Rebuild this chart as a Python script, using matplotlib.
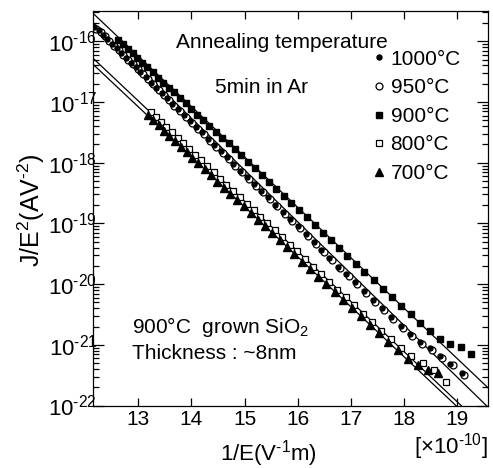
import numpy as np
import matplotlib
matplotlib.use("Agg")
import matplotlib.pyplot as plt
from matplotlib.ticker import FuncFormatter

plt.rcParams['font.family'] = ['Liberation Sans', 'DejaVu Sans']
plt.rcParams['mathtext.fontset'] = 'custom'
plt.rcParams['mathtext.rm'] = 'Liberation Sans'
plt.rcParams['mathtext.it'] = 'Liberation Sans:italic'
plt.rcParams['mathtext.bf'] = 'Liberation Sans:bold'

# ---------------- data (1/E in 1e-10 V^-1 m, log10 of J/E^2 in A V^-2) ----------------
x_1000 = [12.17, 12.25, 12.33, 12.41, 12.50, 12.59, 12.68, 12.77, 12.86, 12.95, 13.04, 13.14,
          13.24, 13.34, 13.44, 13.54, 13.64, 13.75, 13.86, 13.97, 14.08, 14.19, 14.31, 14.43,
          14.55, 14.67, 14.79, 14.92, 15.05, 15.18, 15.31, 15.44, 15.58, 15.72, 15.86, 16.00,
          16.15, 16.30, 16.45, 16.60, 16.76, 16.92, 17.08, 17.25, 17.42, 17.59, 17.76, 17.94,
          18.12, 18.30, 18.49, 18.68, 18.88, 19.09]
logy_1000 = [-15.76, -15.82, -15.89, -15.96, -16.04, -16.11, -16.19, -16.27, -16.35, -16.43,
             -16.51, -16.59, -16.68, -16.77, -16.85, -16.94, -17.03, -17.12, -17.22, -17.31,
             -17.41, -17.50, -17.61, -17.71, -17.81, -17.91, -18.02, -18.13, -18.24, -18.35,
             -18.46, -18.57, -18.69, -18.81, -18.93, -19.05, -19.18, -19.31, -19.44, -19.57,
             -19.71, -19.84, -19.97, -20.12, -20.26, -20.40, -20.54, -20.69, -20.82, -20.95,
             -21.06, -21.18, -21.31, -21.46]

x_950 = [12.21, 12.29, 12.37, 12.45, 12.54, 12.63, 12.72, 12.81, 12.90, 12.99, 13.08, 13.18,
         13.28, 13.38, 13.48, 13.58, 13.68, 13.79, 13.90, 14.01, 14.12, 14.23, 14.35, 14.47,
         14.59, 14.71, 14.83, 14.96, 15.09, 15.22, 15.35, 15.48, 15.62, 15.76, 15.90, 16.04,
         16.19, 16.34, 16.49, 16.64, 16.80, 16.96, 17.12, 17.29, 17.46, 17.63, 17.80, 17.98,
         18.16, 18.34, 18.53, 18.72, 18.92, 19.13]
logy_950 = [-15.79, -15.85, -15.92, -15.99, -16.07, -16.14, -16.22, -16.30, -16.38, -16.46,
            -16.54, -16.62, -16.71, -16.80, -16.88, -16.97, -17.06, -17.15, -17.25, -17.34,
            -17.44, -17.53, -17.64, -17.74, -17.84, -17.94, -18.05, -18.16, -18.27, -18.38,
            -18.49, -18.60, -18.72, -18.84, -18.96, -19.08, -19.21, -19.34, -19.47, -19.60,
            -19.74, -19.87, -20.00, -20.15, -20.29, -20.43, -20.57, -20.72, -20.85, -20.98,
            -21.09, -21.21, -21.34, -21.49]

x_900 = [12.62, 12.71, 12.80, 12.89, 12.98, 13.07, 13.17, 13.27, 13.37, 13.47, 13.57, 13.67,
         13.78, 13.89, 14.00, 14.11, 14.22, 14.34, 14.46, 14.58, 14.70, 14.82, 14.94, 15.07,
         15.20, 15.33, 15.46, 15.60, 15.74, 15.88, 16.02, 16.17, 16.32, 16.47, 16.62, 16.78,
         16.94, 17.10, 17.26, 17.43, 17.60, 17.77, 17.95, 18.13, 18.31, 18.50, 18.69, 18.88,
         19.07, 19.27]
logy_900 = [-15.97, -16.05, -16.12, -16.20, -16.27, -16.35, -16.43, -16.51, -16.60, -16.68,
            -16.77, -16.83, -16.93, -17.02, -17.12, -17.21, -17.29, -17.39, -17.49, -17.59,
            -17.67, -17.77, -17.87, -17.98, -18.09, -18.20, -18.31, -18.43, -18.55, -18.66,
            -18.78, -18.90, -19.03, -19.16, -19.28, -19.41, -19.54, -19.67, -19.80, -19.94,
            -20.08, -20.21, -20.36, -20.50, -20.64, -20.78, -20.90, -20.98, -21.04, -21.15]

x_800 = [13.23, 13.33, 13.43, 13.53, 13.63, 13.74, 13.85, 13.96, 14.07, 14.18, 14.30, 14.42,
         14.54, 14.66, 14.78, 14.91, 15.04, 15.17, 15.30, 15.43, 15.57, 15.71, 15.85, 15.99,
         16.14, 16.29, 16.44, 16.59, 16.75, 16.91, 17.07, 17.24, 17.41, 17.58, 17.76, 17.94,
         18.13, 18.36, 18.57, 18.79]
logy_800 = [-17.16, -17.24, -17.33, -17.41, -17.50, -17.59, -17.68, -17.78, -17.87, -17.96,
            -18.06, -18.16, -18.26, -18.36, -18.46, -18.57, -18.68, -18.78, -18.89, -19.00,
            -19.11, -19.23, -19.35, -19.46, -19.59, -19.71, -19.83, -19.96, -20.09, -20.22,
            -20.35, -20.49, -20.63, -20.77, -20.91, -21.05, -21.18, -21.30, -21.41, -21.61]

x_700 = [13.18, 13.28, 13.38, 13.48, 13.58, 13.69, 13.80, 13.91, 14.02, 14.13, 14.25, 14.37,
         14.49, 14.61, 14.73, 14.86, 14.99, 15.12, 15.25, 15.38, 15.52, 15.66, 15.80, 15.94,
         16.09, 16.24, 16.39, 16.54, 16.70, 16.86, 17.02, 17.19, 17.36, 17.53, 17.71, 17.89,
         18.08, 18.26, 18.45, 18.64]
logy_700 = [-17.21, -17.30, -17.38, -17.47, -17.56, -17.65, -17.74, -17.83, -17.92, -18.01,
            -18.11, -18.21, -18.31, -18.41, -18.51, -18.62, -18.72, -18.83, -18.94, -19.05,
            -19.16, -19.28, -19.39, -19.51, -19.63, -19.75, -19.88, -20.00, -20.13, -20.26,
            -20.39, -20.53, -20.67, -20.81, -20.95, -21.09, -21.24, -21.34, -21.41, -21.47]

# fitted straight lines (end points)
fit_x = [12.137, 19.59]
fit_logy_A = [-15.53, -21.71]
fit_logy_B = [-15.68, -22.03]
fit_logy_C = [-16.27, -22.42]
fit_logy_D = [-16.37, -22.50]

labels = ['1000°C', '950°C', '900°C', '800°C', '700°C']
x_ticks = [13, 14, 15, 16, 17, 18, 19]
y_ticks = [1e-22, 1e-21, 1e-20, 1e-19, 1e-18, 1e-17, 1e-16]

# ---------------- figure ----------------
fig = plt.figure(figsize=(4.93, 4.68), dpi=100)
ax = fig.add_axes([0.1877, 0.1335, 0.8025, 0.843])

for fl in (fit_logy_A, fit_logy_B, fit_logy_C, fit_logy_D):
    ax.plot(fit_x, 10 ** np.array(fl), color='black', lw=0.9, zorder=2)

h900, = ax.plot(x_900, 10 ** np.array(logy_900), ls='none', marker='s', ms=5.0,
                mfc='black', mec='black', zorder=3)
h950, = ax.plot(x_950, 10 ** np.array(logy_950), ls='none', marker='o', ms=5.0,
                mfc='white', mec='black', mew=0.9, zorder=3)
h1000, = ax.plot(x_1000, 10 ** np.array(logy_1000), ls='none', marker='o', ms=3.6,
                 mfc='black', mec='black', zorder=4)
h800, = ax.plot(x_800, 10 ** np.array(logy_800), ls='none', marker='s', ms=5.0,
                mfc='white', mec='black', mew=0.9, zorder=3)
h700, = ax.plot(x_700, 10 ** np.array(logy_700), ls='none', marker='^', ms=5.8,
                mfc='black', mec='black', zorder=4)

ax.set_yscale('log')
ax.set_xlim(12.137, 19.59)
ax.set_ylim(1e-22, 10 ** -15.5)
ax.set_xticks(x_ticks)
ax.set_yticks(y_ticks)


def yfmt(v, pos):
    e = int(round(np.log10(v)))
    return r'$\mathregular{10^{\text{-}%d}}$' % (-e)


ax.yaxis.set_major_formatter(FuncFormatter(yfmt))

ax.tick_params(which='both', direction='in', top=True, right=True, width=0.9, color='black')
ax.tick_params(axis='y', which='major', length=8, pad=-3.3, labelsize=16)
ax.tick_params(axis='y', which='minor', length=4)
ax.tick_params(axis='x', which='major', length=6, pad=3, labelsize=15)
ax.tick_params(axis='x', which='minor', bottom=False, top=False)
for sp in ax.spines.values():
    sp.set_linewidth(0.9)

fig.text(0.063, 0.551, r'J/E$^2$(AV$^{\text{-}2}$)', fontsize=18, rotation=90,
         ha='center', va='center')
fig.text(0.5436, 0.016, r'1/E(V$^{\text{-}1}$m)', fontsize=16, ha='center', va='baseline')
fig.text(0.990, 0.030, r'[$\times$10$^{\text{-}10}$]', fontsize=16, ha='right', va='baseline')

ax.text(0.212, 0.921, 'Annealing temperature', transform=ax.transAxes, fontsize=15,
        va='center', ha='left')
ax.text(0.31, 0.805, '5min in Ar', transform=ax.transAxes, fontsize=15,
        va='center', ha='left')
ax.text(0.1, 0.199, r'900°C  grown SiO$_2$', transform=ax.transAxes, fontsize=15,
        va='center', ha='left')
ax.text(0.1, 0.133, 'Thickness : ~8nm', transform=ax.transAxes, fontsize=15,
        va='center', ha='left')

leg = ax.legend([h1000, h950, h900, h800, h700], labels, loc='upper left',
                bbox_to_anchor=(0.706, 0.902), frameon=False, fontsize=15,
                handlelength=0.7, handletextpad=0.2, labelspacing=0.46,
                borderpad=0, borderaxespad=0, numpoints=1)

fig.savefig('out.png', dpi=100)
